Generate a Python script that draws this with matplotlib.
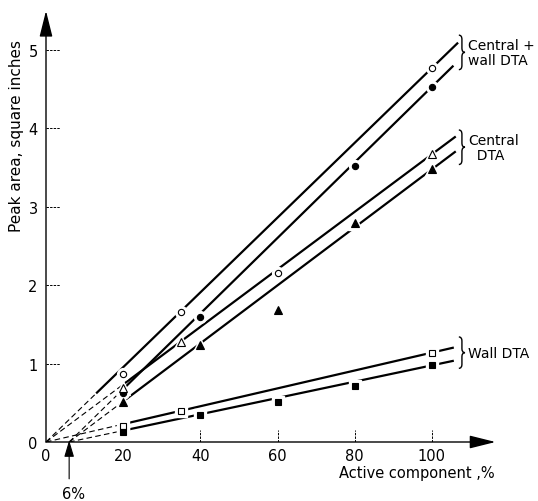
import numpy as np
import matplotlib
matplotlib.use("Agg")
import matplotlib.pyplot as plt
from matplotlib.path import Path
from matplotlib.patches import PathPatch

# measured points (active component %, peak area sq. in.)
cw_open_x = [20, 35, 60, 100]
cw_open_y = [0.87, 1.66, 2.16, 4.77]
cw_filled_x = [20, 40, 80, 100]
cw_filled_y = [0.62, 1.59, 3.52, 4.53]
c_open_x = [20, 35, 100]
c_open_y = [0.69, 1.27, 3.67]
c_filled_x = [20, 40, 60, 80, 100]
c_filled_y = [0.51, 1.24, 1.68, 2.79, 3.48]
w_open_x = [20, 35, 100]
w_open_y = [0.21, 0.39, 1.14]
w_filled_x = [20, 40, 60, 80, 100]
w_filled_y = [0.13, 0.35, 0.51, 0.72, 0.98]

# fitted lines: slope, zero intercept on x, start of solid part, end
fit_slope = [0.0477, 0.0482, 0.0367, 0.0370, 0.0114, 0.0104]
fit_x0 = [0, 6, 0, 6, 0, 6]
fit_start = [13, 20, 20, 20, 20, 20]
fit_end = [106.8, 105.6, 106.2, 106.2, 105.7, 105.7]

group_labels = ["Central +\nwall DTA", "Central\n  DTA", "Wall DTA"]
group_label_y = [4.97, 3.76, 1.14]

x_ticks = [0, 20, 40, 60, 80, 100]
y_ticks = [0, 1, 2, 3, 4, 5]
threshold = 6

series = [
    (cw_open_x, cw_open_y, "o", "white", 4.5),
    (cw_filled_x, cw_filled_y, "o", "black", 4.5),
    (c_open_x, c_open_y, "^", "white", 5.5),
    (c_filled_x, c_filled_y, "^", "black", 6),
    (w_open_x, w_open_y, "s", "white", 5),
    (w_filled_x, w_filled_y, "s", "black", 5),
]


def brace(ax, x, yc, half, w=1.6):
    """Right-pointing curly brace '}' in data coords."""
    c = half * 0.25
    xm = x + w * 0.5
    verts = [(x, yc + half), (xm, yc + half), (xm, yc + half - c),
             (xm, yc + c), (xm, yc), (x + w, yc),
             (xm, yc), (xm, yc - c),
             (xm, yc - half + c), (xm, yc - half), (x, yc - half)]
    codes = [Path.MOVETO, Path.CURVE3, Path.CURVE3,
             Path.LINETO, Path.CURVE3, Path.CURVE3,
             Path.CURVE3, Path.CURVE3,
             Path.LINETO, Path.CURVE3, Path.CURVE3]
    ax.add_patch(PathPatch(Path(verts, codes), fill=False, lw=1.0,
                           color="black", clip_on=False))


plt.rcParams["font.family"] = "DejaVu Sans"
fig = plt.figure(figsize=(5.38, 5.02), dpi=100)
ax = fig.add_axes([46 / 538, 59 / 502, 463 / 538, 439 / 502])
ax.set_xlim(0, 120)
ax.set_ylim(0, 5.6)
for s in ax.spines.values():
    s.set_visible(False)

# fitted lines, dashed extrapolation back to the x axis
for k in range(6):
    xs = np.array([fit_start[k], fit_end[k]])
    ax.plot(xs, fit_slope[k] * (xs - fit_x0[k]), color="black", lw=1.6,
            solid_capstyle="butt", zorder=2)
    xd = np.array([fit_x0[k], fit_start[k]])
    ax.plot(xd, fit_slope[k] * (xd - fit_x0[k]), color="black", lw=0.8,
            dashes=(5, 3), zorder=2)

# markers with white halo to break the lines
for xs, ys, m, fc, ms in series:
    ax.plot(xs, ys, ls="none", marker=m, ms=ms + 4, mfc="white", mec="white",
            zorder=3)
    ax.plot(xs, ys, ls="none", marker=m, ms=ms, mfc=fc, mec="black",
            mew=0.8, zorder=4)

# axes with arrow heads
arrow = dict(arrowstyle="-|>,head_length=0.8,head_width=0.2", color="black",
             lw=1.0, shrinkA=0, shrinkB=0, mutation_scale=20)
ax.annotate("", xy=(116.5, 0), xytext=(0, 0), arrowprops=arrow,
            annotation_clip=False)
ax.annotate("", xy=(0, 5.5), xytext=(0, 0), arrowprops=arrow,
            annotation_clip=False)

# ticks drawn as short broken strokes inside the axes
ax.set_xticks(x_ticks)
ax.set_yticks(y_ticks)
ax.tick_params(axis="x", length=0, pad=4, labelsize=10.5)
ax.tick_params(axis="y", length=0, pad=6, labelsize=10.5)
for yt in y_ticks[1:]:
    ax.plot([0, 3.6], [yt, yt], color="black", lw=0.7, dashes=(2.5, 1.2))
for xt in x_ticks[2:]:
    ax.plot([xt, xt], [0, 0.15], color="black", lw=0.7, dashes=(2.5, 1.2))

ax.set_xlabel("Active component ,%", fontsize=10.5)
ax.xaxis.set_label_coords(0.80, -0.052)
ax.set_ylabel("Peak area, square inches", fontsize=11)
ax.yaxis.set_label_coords(-0.048, 0.70)

# 6% marker
ax.annotate("", xy=(threshold, 0.02), xytext=(threshold, -0.47),
            arrowprops=dict(arrowstyle="-|>,head_length=0.5,head_width=0.15",
                            color="black", lw=0.8, shrinkA=0, shrinkB=0,
                            mutation_scale=20),
            annotation_clip=False)
ax.text(threshold + 1, -0.66, f"{threshold}%", ha="center", va="center",
        fontsize=10.5, clip_on=False)

# group braces and labels
for lab, yl in zip(group_labels, group_label_y):
    nl = lab.count("\n") + 1
    brace(ax, 107.0, yl, 0.22 if nl > 1 else 0.2)
    ax.text(109.4, yl, lab, ha="left", va="center", fontsize=10,
            linespacing=1.1, clip_on=False)

fig.savefig("out.png", dpi=100)
